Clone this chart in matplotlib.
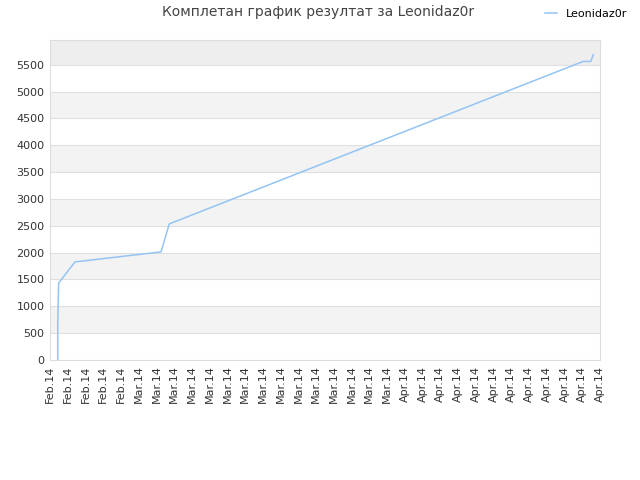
import numpy as np
from matplotlib import pyplot as plt

# days since start of range
days = [0.90, 0.90, 1.01, 2.91, 12.92, 13.88, 62.02, 62.92, 63.22]
score = [0, 690, 1435, 1827, 2013, 2535, 5560, 5560, 5686]

tick_labels = ["Feb.14"] * 5 + ["Mar.14"] * 15 + ["Apr.14"] * 12
yticks = list(range(0, 6000, 500))

fig = plt.figure(figsize=(6.4, 4.8), dpi=100)
ax = fig.add_axes([50 / 640, 120 / 480, 550 / 640, 320 / 480])

xmax = 64
ymax = 5960
ax.set_xlim(0, xmax)
ax.set_ylim(0, ymax)

# alternating bands
for lo in range(500, 6000, 1000):
    c = "#eeeeee" if lo == 5500 else "#f3f3f3"
    ax.axhspan(lo, min(lo + 500, ymax), color=c, zorder=0, lw=0)
for yv in yticks[1:]:
    ax.axhline(yv, color="#e0e0e0", lw=0.8, zorder=1)

ax.plot(days, score, color="#94c4f4", lw=1.1, label="Leonidaz0r", zorder=3)

ax.set_yticks(yticks)
ax.set_xticks(np.linspace(0, xmax, len(tick_labels)))
ax.set_xticklabels(tick_labels, rotation=90)
ax.tick_params(length=0, labelsize=8, labelcolor="#333333", pad=4)
for s in ax.spines.values():
    s.set_color("#dddddd")

fig.text(0.497, 0.975, "Комплетан график резултат за Leonidaz0r", ha="center",
         va="center", fontsize=10, color="#444444")
fig.legend(loc="upper right", bbox_to_anchor=(0.995, 1.003), frameon=False,
           fontsize=8, handlelength=1.0, handletextpad=0.8)

fig.savefig("out.png")
